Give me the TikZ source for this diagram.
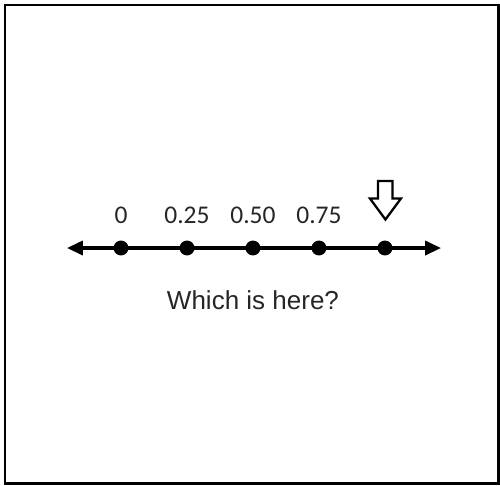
\documentclass[tikz,border=0pt]{standalone}
\usepackage{fontspec}
\setmainfont{Liberation Sans}
\newfontfamily\calibri{Carlito}
\usetikzlibrary{arrows.meta, positioning}
\tikzstyle{tick} = [
    circle,
    fill=black,
    inner sep=0pt,
    minimum size=8.5pt
]
\tikzstyle{ticklabel} = [
    font=\calibri\fontsize{14.5}{17}\selectfont,
    text=black!85,
    inner sep=0pt
]
\tikzstyle{question} = [
    font=\fontsize{14.8}{17}\selectfont,
    text=black!85,
    inner sep=0pt
]
\tikzstyle{numline} = [line width=1.8pt, {Triangle[length=9pt,width=8pt]}-{Triangle[length=9pt,width=8pt]}]
\tikzstyle{blockarrow} = [draw=black, line width=1.3pt, fill=white, line join=miter]

\begin{document}
\begin{tikzpicture}[x=0.02cm, y=-0.02cm, node distance=1.32cm]
\useasboundingbox (0,0) rectangle (500,485);
\draw[line width=1.6pt] (5,5) rectangle (498.5,483.5);

\coordinate (lend) at (67,248);
\coordinate (rend) at (441,248);
\draw [numline] (lend) -- (rend);

\node (d0) [tick] at (121,248) {};
\node (d1) [tick, right of=d0] {};
\node (d2) [tick, right of=d1] {};
\node (d3) [tick, right of=d2] {};
\node (d4) [tick, right of=d3] {};

\node (l0) [ticklabel, node distance=0.66cm, above of=d0] {0};
\node (l1) [ticklabel, node distance=0.66cm, above of=d1] {0.25};
\node (l2) [ticklabel, node distance=0.66cm, above of=d2] {0.50};
\node (l3) [ticklabel, node distance=0.66cm, above of=d3] {0.75};

\node (ask) [question, node distance=1.04cm, below of=d2] {Which is here?};

\draw [blockarrow, shift={(d4)}] (-7,-67) -- (7.5,-67) -- (7.5,-49.5) -- (16,-49.5)
    -- (0.5,-28.5) -- (-15,-49.5) -- (-7,-49.5) -- cycle;

\end{tikzpicture}
\end{document}
